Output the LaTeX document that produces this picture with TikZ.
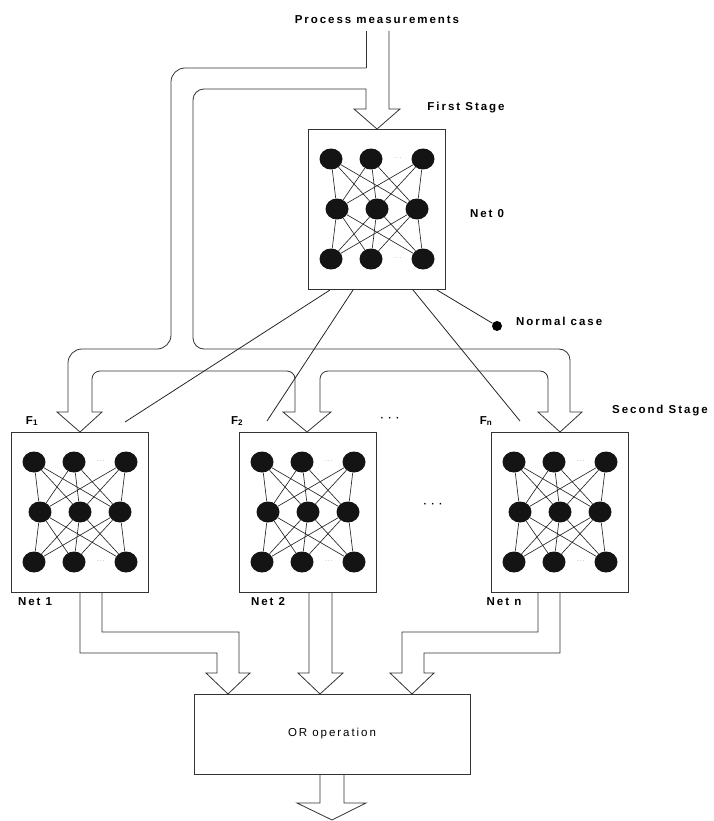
\documentclass[tikz,border=0pt]{standalone}
\usepackage{fontspec}
\setmainfont{Liberation Sans}[LetterSpace=17]
\usetikzlibrary{shapes.geometric}
\tikzset{
  netbox/.style={draw=black!80, line width=0.8pt, minimum width=137pt, minimum height=160pt, inner sep=0pt},
  orbox/.style={draw=black!80, line width=0.8pt, minimum width=276pt, minimum height=80pt, inner sep=0pt},
  neuron/.style={ellipse, fill=black!92, minimum width=23pt, minimum height=21pt, inner sep=0pt},
  syn/.style={line width=0.65pt, black!85},
  pipe/.style={line width=0.8pt, black!80},
  wire/.style={line width=0.8pt, black!85},
  lbl/.style={font=\fontsize{11.5}{13}\selectfont\bfseries, inner sep=0pt},
  plainlbl/.style={font=\fontsize{11.5}{13}\selectfont, inner sep=0pt},
  tdots/.style={font=\fontsize{6}{6}\selectfont, text=black!45, inner sep=0pt},
  ell/.style={font=\fontsize{10}{10}\selectfont\bfseries, inner sep=0pt},
  dotnode/.style={circle, fill=black, minimum size=10pt, inner sep=0pt}
}
\newcommand{\mynet}[3]{%
  \node[netbox] (#1) at (#2,#3+80) {};
  \foreach \i/\dx in {1/-46,2/-6,3/46}{%
    \node[neuron] (#1t\i) at (#2+\dx,#3+30) {};
    \node[neuron] (#1b\i) at (#2+\dx,#3+130) {};}
  \foreach \i/\dx in {1/-40,2/0,3/40}{\node[neuron] (#1m\i) at (#2+\dx,#3+80) {};}
  \foreach \i in {1,2,3}{\foreach \j in {1,2,3}{%
    \draw[syn] (#1t\i) -- (#1m\j);
    \draw[syn] (#1m\i) -- (#1b\j);}}
  \node[tdots] at (#2+21,#3+29) {...};
  \node[tdots] at (#2+21,#3+129) {...};
}
\begin{document}
\begin{tikzpicture}[x=1pt,y=-1pt]
\useasboundingbox (0,0) rectangle (714,821);

% networks
\mynet{net0}{377}{129}
\mynet{net1}{80}{432}
\mynet{net2}{308}{432}
\mynet{netn}{560}{432}

% OR box
\node[orbox] (orop) at (332,734) {};
\node[plainlbl] at (orop.center) {OR operation};

% input pipe and feedback pipes
\draw[pipe] (389,31) -- (389,109) -- (400,109) -- (377,129) -- (354,109) -- (366,109) -- (366,89);
\draw[pipe, rounded corners=11pt] (366,89) -- (193,89) -- (193,349) -- (570,349) -- (570,412);
\draw[pipe] (570,412) -- (582,412) -- (560,432) -- (538,412) -- (548,412);
\draw[pipe, rounded corners=8pt] (548,412) -- (548,371) -- (320,371) -- (320,412);
\draw[pipe] (320,412) -- (331,412) -- (307,432) -- (283,412) -- (295,412);
\draw[pipe, rounded corners=8pt] (295,412) -- (295,371) -- (92,371) -- (92,412);
\draw[pipe] (92,412) -- (102,412) -- (80,432) -- (57,412) -- (68,412);
\draw[pipe, rounded corners=14pt] (68,412) -- (68,349) -- (171,349) -- (171,68) -- (366,68);
\draw[pipe] (366,68) -- (366,31);

% output pipes
\draw[pipe] (80,592) -- (80,653) -- (217,653) -- (217,673) -- (206,673) -- (228,694) -- (250,673) -- (239,673) -- (239,632) -- (102,632) -- (102,592);
\draw[pipe] (309,592) -- (309,673) -- (298,673) -- (320,694) -- (343,673) -- (332,673) -- (332,592);
\draw[pipe] (560,592) -- (560,653) -- (424,653) -- (424,673) -- (434,673) -- (412,694) -- (390,673) -- (402,673) -- (402,632) -- (538,632) -- (538,592);
\draw[pipe] (320,774) -- (320,803) -- (297,803) -- (332,820) -- (366,803) -- (344,803) -- (344,774);

% decision wires from Net 0
\coordinate (a1) at (330,290);
\coordinate (a2) at (353,290);
\coordinate (a3) at (413,290);
\coordinate (a4) at (437,290);
\coordinate (e1) at (125,422);
\coordinate (e2) at (267,421);
\coordinate (e3) at (520,421);
\node[dotnode] (normal) at (497,326) {};
\draw[wire] (a1) -- (e1);
\draw[wire] (a2) -- (e2);
\draw[wire] (a3) -- (e3);
\draw[wire] (a4) -- (normal);

% labels
\node[lbl] (pm) at (377,20) {Process measurements};
\node[lbl] (fs) at (466,108) {First Stage};
\node[lbl] (n0) at (487,214) {Net 0};
\node[lbl, anchor=west] (nc) at (516,321) {Normal case};
\node[lbl, anchor=west] (ss) at (612,411) {Second Stage};
\node[lbl] (f1) at (32,421) {F\textsubscript{1}};
\node[lbl] (f2) at (237,421) {F\textsubscript{2}};
\node[lbl] (fn) at (486,421) {F\textsubscript{n}};
\node[ell] (d1) at (390,419) {· · ·};
\node[ell] (d2) at (433,505) {· · ·};
\node[lbl] (l1) at (35,602) {Net 1};
\node[lbl] (l2) at (268,602) {Net 2};
\node[lbl] (ln) at (504,602) {Net n};
\end{tikzpicture}
\end{document}
